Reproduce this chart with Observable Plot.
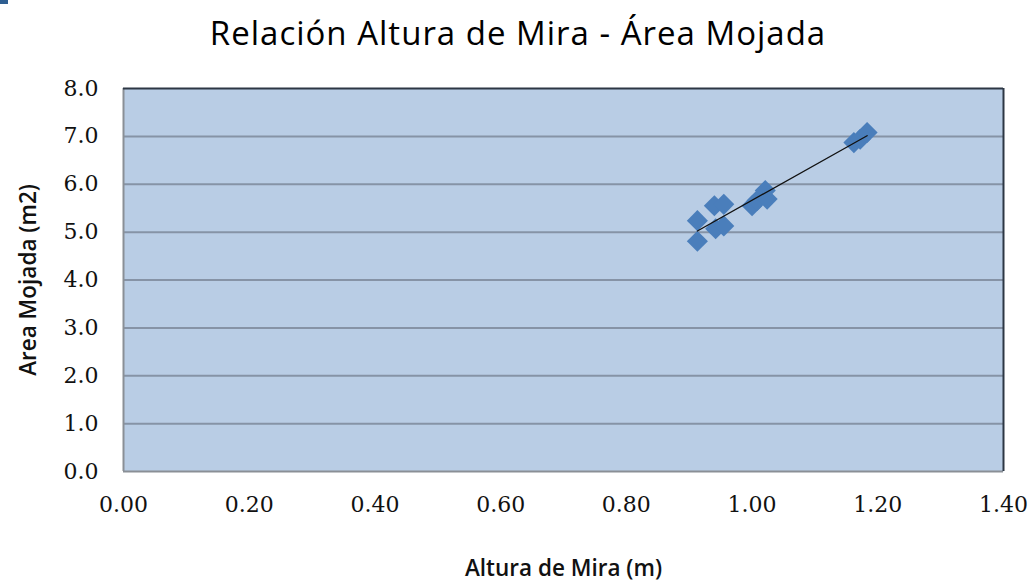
<!DOCTYPE html>
<html>
<head>
<meta charset="utf-8">
<script src="https://cdn.jsdelivr.net/npm/d3@7"></script>
<script src="https://cdn.jsdelivr.net/npm/@observablehq/plot@0.6"></script>
<style>
  html, body { margin: 0; padding: 0; background: #ffffff; }
  #wrap { position: relative; width: 1036px; height: 585px; overflow: hidden; }
  #corner { position: absolute; left: 0; top: 0; width: 8px; height: 4px; background: #2f5f92; }
  #title { height: 60px; line-height: 66px; text-align: center; font-family: "Open Sans", sans-serif; font-size: 33px; letter-spacing: 1px; color: #000; }
</style>
</head>
<body>
<div id="wrap">
  <div id="corner"></div>
  <div id="title">Relación Altura de Mira - Área Mojada</div>
  <div id="chart"></div>
</div>
<script>
// Data
const altura = [0.913, 0.913, 0.940, 0.955, 0.942, 0.955, 1.000, 1.008, 1.021, 1.024, 1.162, 1.172, 1.183];
const area   = [5.24, 4.81, 5.55, 5.58, 5.07, 5.13, 5.55, 5.66, 5.87, 5.69, 6.87, 6.94, 7.08];
const xTicks = [0, 0.2, 0.4, 0.6, 0.8, 1.0, 1.2, 1.4];
const yTicks = [0, 1, 2, 3, 4, 5, 6, 7, 8];
const gridY  = [1, 2, 3, 4, 5, 6, 7];
const xTitle = "Altura de Mira (m)";
const yTitle = "Area Mojada (m2)";

const data = altura.map((a, i) => ({altura: a, area: area[i]}));

const chart = Plot.plot({
  width: 1036,
  height: 525,
  marginTop: 28,
  marginBottom: 114,
  marginLeft: 123,
  marginRight: 33,
  style: {background: "transparent", overflow: "visible"},
  x: {domain: [0, 1.4]},
  y: {domain: [0, 8]},
  marks: [
    Plot.frame({fill: "#b9cde5", stroke: null}),
    Plot.ruleY(gridY, {stroke: "#8693a6", strokeWidth: 2}),
    Plot.ruleY([0], {stroke: "#8a8f96", strokeWidth: 2}),
    Plot.ruleX([0], {stroke: "#8a8f96", strokeWidth: 2}),
    Plot.ruleY([8], {stroke: "#2d3744", strokeWidth: 2}),
    Plot.ruleX([1.4], {stroke: "#2d3744", strokeWidth: 2}),
    Plot.axisX({ticks: xTicks, tickSize: 0, tickPadding: 25, tickFormat: d3.format(".2f"),
      fontFamily: "DejaVu Serif", fontSize: 22, fill: "#111", label: null}),
    Plot.axisY({ticks: yTicks, tickSize: 0, tickPadding: 25, tickFormat: d3.format(".1f"),
      fontFamily: "DejaVu Serif", fontSize: 22, fill: "#111", label: null}),
    Plot.dot(data, {x: "altura", y: "area", symbol: "diamond2", r: 9.5, fill: "#4a7ebb", stroke: null}),
    Plot.linearRegressionY(data, {x: "altura", y: "area", stroke: "#111", strokeWidth: 1.3, ci: 0}),
    Plot.text([xTitle], {frameAnchor: "bottom", dy: 104, textAnchor: "middle", fontFamily: "Open Sans",
      fontWeight: 600, fontSize: 22.5, fill: "#111"}),
    Plot.text([yTitle], {frameAnchor: "left", dx: -95, rotate: -90, textAnchor: "middle", lineAnchor: "middle",
      fontFamily: "Open Sans", fontWeight: 600, fontSize: 22.5, fill: "#111"})
  ]
});
document.getElementById("chart").appendChild(chart);
</script>
</body>
</html>
